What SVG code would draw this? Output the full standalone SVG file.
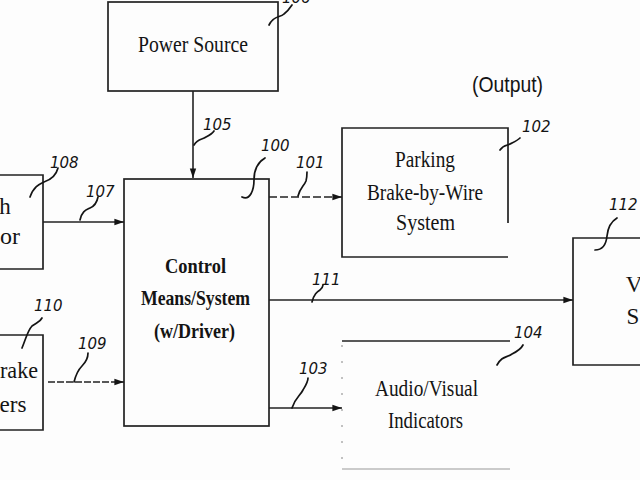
<svg xmlns="http://www.w3.org/2000/svg" width="640" height="480" viewBox="0 0 640 480">
<style>
.box{fill:none;stroke:#222;stroke-width:1.7}
.faint{fill:none;stroke:#9a9a9a;stroke-width:1.2}
.t{font-family:"Liberation Serif","Times New Roman",serif;font-size:23px;fill:#141414;text-anchor:middle}
.b{font-weight:bold;font-size:22px}
.o{font-family:"Liberation Sans",Arial,sans-serif;font-size:22px;fill:#141414}
.lbl{font-family:"DejaVu Sans",sans-serif;font-style:italic;font-size:15px;fill:#141414}
.sq{fill:none;stroke:#141414;stroke-width:1.7;stroke-linecap:round}
.ln{fill:none;stroke:#222;stroke-width:1.6}
</style>
<defs>
<marker id="ah" viewBox="0 0 12 10" refX="12" refY="5" markerWidth="12" markerHeight="8" markerUnits="userSpaceOnUse" orient="auto">
<path d="M0,1 L12,5 L0,9 Z" fill="#141414"/>
</marker>
</defs>
<rect width="640" height="480" fill="#fdfdfd"/>

<g id="power-source">
<rect class="box" x="108" y="2" width="170" height="89"/>
<text class="t" x="193" y="52" textLength="110" lengthAdjust="spacingAndGlyphs">Power Source</text>
<text class="lbl" x="282" y="3">106</text>
<path class="sq" d="M269,25 C274,15 280,18 284,14 C288,11 290,8 292,5"/>
</g>

<g id="control">
<rect class="box" x="124" y="179" width="145" height="247"/>
<text class="t b" x="195.5" y="273" textLength="61" lengthAdjust="spacingAndGlyphs">Control</text>
<text class="t b" x="195.5" y="305" textLength="109" lengthAdjust="spacingAndGlyphs">Means/System</text>
<text class="t b" x="194.5" y="338" textLength="81" lengthAdjust="spacingAndGlyphs">(w/Driver)</text>
<text class="lbl" x="261" y="151">100</text>
<path class="sq" d="M242,197 C250,201 254,190 254,180 C254,168 258,162 265,158"/>
</g>

<g id="sensor-top">
<path class="box" d="M0,175 H43 V269 H0"/>
<text class="t" x="5" y="214">h</text>
<text class="t" x="10" y="244" textLength="20" lengthAdjust="spacingAndGlyphs">or</text>
<text class="lbl" x="50" y="168">108</text>
<path class="sq" d="M30,197 C34,186 40,184 44,182 C50,180 56,176 58,168"/>
</g>

<g id="sensor-bottom">
<path class="box" d="M0,335 H43 V430 H0"/>
<text class="t" x="19" y="378" textLength="38" lengthAdjust="spacingAndGlyphs">rake</text>
<text class="t" x="13" y="412" textLength="27" lengthAdjust="spacingAndGlyphs">ers</text>
<text class="lbl" x="34" y="311">110</text>
<path class="sq" d="M22,348 C26,338 28,330 32,326 C38,322 40,322 42,318"/>
</g>

<g id="parking-brake">
<path class="box" d="M508,223 V128 H342 V257 H508"/>
<text class="t" x="425" y="167" textLength="60" lengthAdjust="spacingAndGlyphs">Parking</text>
<text class="t" x="425" y="200" textLength="116" lengthAdjust="spacingAndGlyphs">Brake-by-Wire</text>
<text class="t" x="425.5" y="230" textLength="59" lengthAdjust="spacingAndGlyphs">System</text>
<text class="lbl" x="522" y="132">102</text>
<path class="sq" d="M500,150 C504,144 508,146 512,143 C516,141 518,140 520,138"/>
</g>

<g id="right-box">
<path class="box" d="M640,238 H573 V365 H640"/>
<text class="t" x="634" y="292">V</text>
<text class="t" x="633" y="324">S</text>
<text class="lbl" x="609" y="210">112</text>
<path class="sq" d="M595,250 C602,250 606,246 607,236 C608,226 612,221 617,218"/>
</g>

<g id="audio-visual">
<path class="box" d="M342,341 H510"/>
<path class="faint" d="M342,469 H510"/>
<path class="faint" d="M342,345 V465" stroke-dasharray="2 14"/>
<text class="t" x="426.5" y="396" textLength="103" lengthAdjust="spacingAndGlyphs">Audio/Visual</text>
<text class="t" x="425.5" y="428" textLength="75" lengthAdjust="spacingAndGlyphs">Indicators</text>
<text class="lbl" x="514" y="338">104</text>
<path class="sq" d="M497,365 C502,356 506,358 512,354 C518,351 521,349 523,345"/>
</g>

<text class="o" x="472" y="92" textLength="71" lengthAdjust="spacingAndGlyphs">(Output)</text>

<g id="connectors">
<path class="ln" d="M193,91 V178" marker-end="url(#ah)"/>
<text class="lbl" x="203" y="130">105</text>
<path class="sq" d="M194,145 C198,138 202,140 206,137 C210,135 212,134 214,131"/>

<path class="ln" d="M43,222 H124" marker-end="url(#ah)"/>
<text class="lbl" x="86" y="197">107</text>
<path class="sq" d="M80,220 C82,211 86,210 90,208 C95,206 97,202 98,197"/>

<path class="ln" d="M48,382 H124" stroke-dasharray="7 2" marker-end="url(#ah)"/>
<text class="lbl" x="78" y="349">109</text>
<path class="sq" d="M74,382 C76,374 78,370 82,366 C86,362 88,358 88,353"/>

<path class="ln" d="M269,197 H342" stroke-dasharray="8 3" marker-end="url(#ah)"/>
<text class="lbl" x="296" y="168">101</text>
<path class="sq" d="M298,196 C300,188 304,186 306,181 C307,177 307,174 307,172"/>

<path class="ln" d="M269,300 H573" marker-end="url(#ah)"/>
<text class="lbl" x="312" y="285">111</text>
<path class="sq" d="M312,302 C314,294 317,292 320,290 C322,288 323,287 323,285"/>

<path class="ln" d="M269,408 H342" marker-end="url(#ah)"/>
<text class="lbl" x="299" y="374">103</text>
<path class="sq" d="M292,408 C295,398 300,396 303,390 C306,385 308,382 308,378"/>
</g>
</svg>
